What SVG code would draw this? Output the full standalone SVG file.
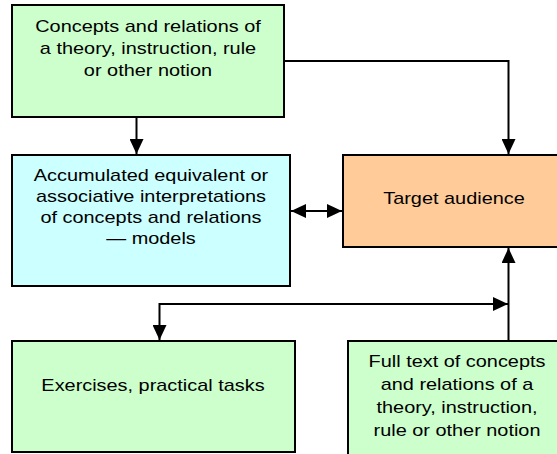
<svg xmlns="http://www.w3.org/2000/svg" width="557" height="454" viewBox="0 0 557 454">
<style>
.box{stroke:#000;stroke-width:2}
.g{fill:#CCFFCC}.c{fill:#CCFFFF}.o{fill:#FFCC99}
text{font-family:"Liberation Sans",Arial,sans-serif;font-size:17px;fill:#000;text-anchor:middle}
.ln{fill:none;stroke:#000;stroke-width:2}
</style>
<defs>
<marker id="ah" markerUnits="userSpaceOnUse" markerWidth="16" markerHeight="14" refX="15" refY="7" orient="auto-start-reverse" viewBox="0 0 16 14">
<path d="M0,0 L15,7 L0,14 Z" fill="#000"/>
</marker>
</defs>
<rect width="557" height="454" fill="#fff"/>
<g id="n1">
<rect class="box g" x="12" y="5" width="272" height="112"/>
<g transform="translate(148 0) scale(1.17 1)">
<text x="0" y="32">Concepts and relations of</text>
<text x="0" y="54">a theory, instruction, rule</text>
<text x="0" y="76">or other notion</text>
</g>
</g>
<g id="n2">
<rect class="box c" x="12" y="155" width="278" height="131"/>
<g transform="translate(151 0) scale(1.17 1)">
<text x="0" y="181">Accumulated equivalent or</text>
<text x="0" y="202">associative interpretations</text>
<text x="0" y="223">of concepts and relations</text>
<text x="0" y="244">— models</text>
</g>
</g>
<g id="n3">
<rect class="box o" x="343" y="155" width="230" height="92"/>
<g transform="translate(454 0) scale(1.17 1)">
<text x="0" y="204">Target audience</text>
</g>
</g>
<g id="n4">
<rect class="box g" x="12" y="341" width="283" height="111"/>
<g transform="translate(153 0) scale(1.17 1)">
<text x="0" y="391">Exercises, practical tasks</text>
</g>
</g>
<g id="n5">
<rect class="box g" x="348" y="341" width="230" height="120"/>
<g transform="translate(457 0) scale(1.17 1)">
<text x="0" y="367">Full text of concepts</text>
<text x="0" y="390">and relations of a</text>
<text x="0" y="413">theory, instruction,</text>
<text x="0" y="436">rule or other notion</text>
</g>
</g>
<g id="connectors">
<path class="ln" d="M136.5,117 V154" marker-end="url(#ah)"/>
<path class="ln" d="M284,61 H508.5 V154" marker-end="url(#ah)"/>
<path class="ln" d="M291,211 H342" marker-start="url(#ah)" marker-end="url(#ah)"/>
<path class="ln" d="M508.5,341 V248" marker-end="url(#ah)"/>
<path class="ln" d="M159.5,340 V304 H508" marker-start="url(#ah)" marker-end="url(#ah)"/>
</g>
</svg>
